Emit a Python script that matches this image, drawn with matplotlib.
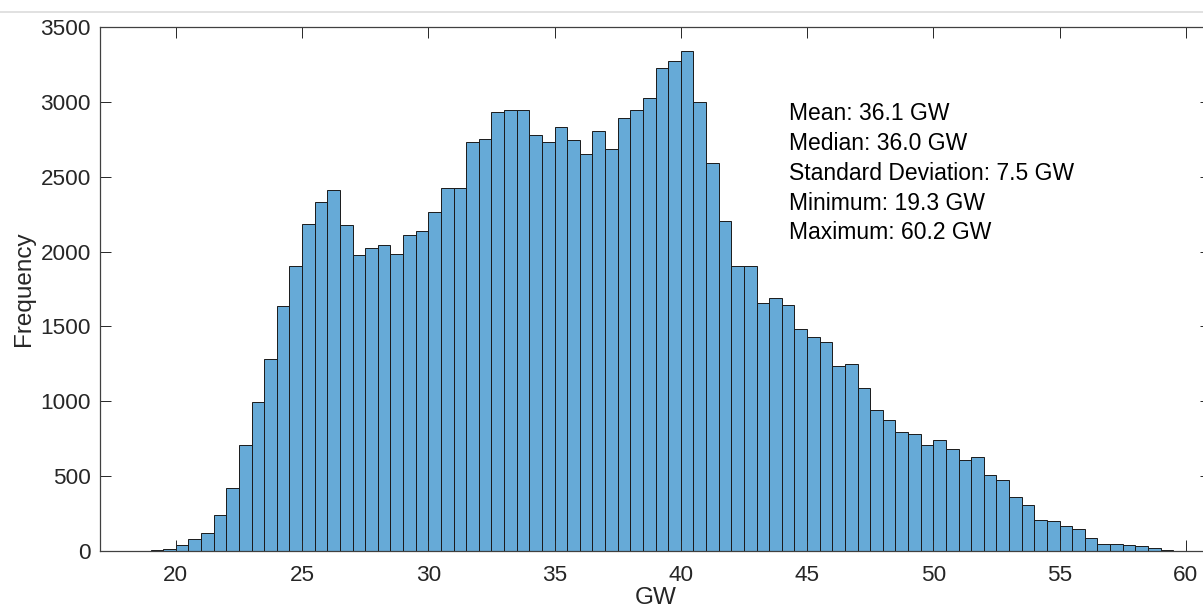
import numpy as np
import matplotlib
matplotlib.use("Agg")
import matplotlib.pyplot as plt
from matplotlib.lines import Line2D

# ---- data ----
bin_first_edge = 19.0
bin_width = 0.5
counts = [
    5, 15, 38, 77, 119, 238, 420, 705, 998, 1284,          # 19.0 - 23.5
    1635, 1902, 2185, 2329, 2410, 2175, 1975, 2023, 2046, 1986,  # 24.0 - 28.5
    2112, 2140, 2266, 2426, 2426, 2735, 2753, 2934, 2945, 2945,  # 29.0 - 33.5
    2780, 2735, 2832, 2743, 2649, 2808, 2685, 2895, 2945, 3026,  # 34.0 - 38.5
    3225, 3270, 3343, 3000, 2594, 2201, 1902, 1902, 1658, 1692,  # 39.0 - 43.5
    1640, 1486, 1430, 1399, 1234, 1250, 1092, 943, 878, 796,     # 44.0 - 48.5
    783, 710, 739, 684, 610, 629, 508, 472, 362, 309,            # 49.0 - 53.5
    207, 201, 168, 150, 89, 50, 45, 38, 32, 22,                  # 54.0 - 58.5
    9, 3, 3,                                                     # 59.0 - 60.0
]
stats_lines = [
    "Mean: 36.1 GW",
    "Median: 36.0 GW",
    "Standard Deviation: 7.5 GW",
    "Minimum: 19.3 GW",
    "Maximum: 60.2 GW",
]
x_ticks = [20, 25, 30, 35, 40, 45, 50, 55, 60]
y_ticks = [0, 500, 1000, 1500, 2000, 2500, 3000, 3500]
x_label = "GW"
y_label = "Frequency"

bin_left = bin_first_edge + bin_width * np.arange(len(counts))

# ---- figure ----
plt.rcParams['font.family'] = ['Liberation Sans', 'DejaVu Sans']
W, H = 1203, 615
fig = plt.figure(figsize=(W / 100, H / 100), dpi=100)

ax_l, ax_r, ax_t, ax_b = 100, 1211, 27, 551
ax = fig.add_axes([ax_l / W, 1 - ax_b / H, (ax_r - ax_l) / W, (ax_b - ax_t) / H])

ax.bar(bin_left, counts, width=bin_width, align='edge',
       color='#66AAD7', edgecolor='#1a1a1a', linewidth=0.7)

ax.set_xlim(17, 61)
ax.set_ylim(0, 3500)
ax.set_xticks(x_ticks)
ax.set_yticks(y_ticks)
ax.tick_params(direction='in', length=7.9, width=0.7, top=True, right=True,
               labelsize=16.2, colors='#262626', pad=6.5)
ax.tick_params(axis='x', pad=10)
for s in ax.spines.values():
    s.set_color('#404040')
    s.set_linewidth(0.9)

ax.set_xlabel(x_label, fontsize=17.5, color='#262626', labelpad=1)
ax.set_ylabel(y_label, fontsize=17.5, color='#262626', labelpad=4)

fig.text(789 / W, 1 - 102 / H, "\n".join(stats_lines), fontsize=16.5,
         va='top', ha='left', color='black', linespacing=1.38)

# thin light frame line at the top of the screenshot
fig.add_artist(Line2D([0, 1], [1 - 12 / H, 1 - 12 / H], transform=fig.transFigure,
                      color='#dcdcdc', linewidth=1.2))

fig.savefig("out.png", dpi=100)
